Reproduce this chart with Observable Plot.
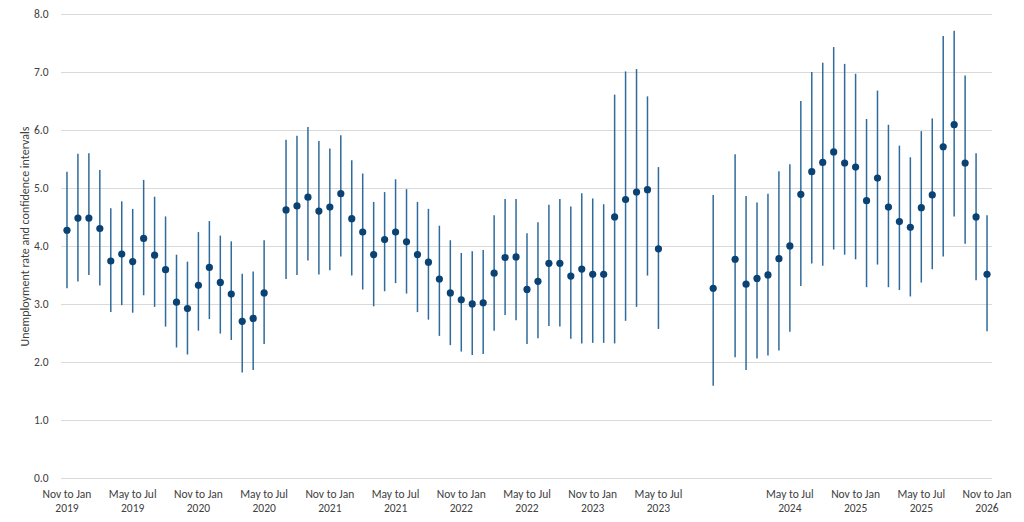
<!DOCTYPE html>
<html>
<head>
<meta charset="utf-8">
<script src="https://cdn.jsdelivr.net/npm/d3@7"></script>
<script src="https://cdn.jsdelivr.net/npm/@observablehq/plot@0.6"></script>
<style>
  html, body { margin: 0; padding: 0; background: #fff; }
  #chart svg { display: block; }
</style>
</head>
<body>
<div id="chart"></div>
<script>
const periods = [
  "Nov to Jan 2019","Dec to Feb 2019","Jan to Mar 2019","Feb to Apr 2019","Mar to May 2019","Apr to Jun 2019","May to Jul 2019","Jun to Aug 2019","Jul to Sep 2019","Aug to Oct 2019","Sep to Nov 2019","Oct to Dec 2019",
  "Nov to Jan 2020","Dec to Feb 2020","Jan to Mar 2020","Feb to Apr 2020","Mar to May 2020","Apr to Jun 2020","May to Jul 2020","Jun to Aug 2020","Jul to Sep 2020","Aug to Oct 2020","Sep to Nov 2020","Oct to Dec 2020",
  "Nov to Jan 2021","Dec to Feb 2021","Jan to Mar 2021","Feb to Apr 2021","Mar to May 2021","Apr to Jun 2021","May to Jul 2021","Jun to Aug 2021","Jul to Sep 2021","Aug to Oct 2021","Sep to Nov 2021","Oct to Dec 2021",
  "Nov to Jan 2022","Dec to Feb 2022","Jan to Mar 2022","Feb to Apr 2022","Mar to May 2022","Apr to Jun 2022","May to Jul 2022","Jun to Aug 2022","Jul to Sep 2022","Aug to Oct 2022","Sep to Nov 2022","Oct to Dec 2022",
  "Nov to Jan 2023","Dec to Feb 2023","Jan to Mar 2023","Feb to Apr 2023","Mar to May 2023","Apr to Jun 2023","May to Jul 2023","Jun to Aug 2023","Jul to Sep 2023","Aug to Oct 2023","Sep to Nov 2023","Oct to Dec 2023",
  "Nov to Jan 2024","Dec to Feb 2024","Jan to Mar 2024","Feb to Apr 2024","Mar to May 2024","Apr to Jun 2024","May to Jul 2024","Jun to Aug 2024","Jul to Sep 2024","Aug to Oct 2024","Sep to Nov 2024","Oct to Dec 2024",
  "Nov to Jan 2025","Dec to Feb 2025","Jan to Mar 2025","Feb to Apr 2025","Mar to May 2025","Apr to Jun 2025","May to Jul 2025","Jun to Aug 2025","Jul to Sep 2025","Aug to Oct 2025","Sep to Nov 2025","Oct to Dec 2025",
  "Nov to Jan 2026"
];

const rate = [
  4.28,4.49,4.49,4.31,3.75,3.87,3.74,4.14,3.85,3.60,3.04,2.93,
  3.33,3.64,3.38,3.18,2.71,2.76,3.20,null,4.63,4.70,4.85,4.61,
  4.68,4.91,4.48,4.25,3.86,4.12,4.25,4.08,3.86,3.73,3.44,3.20,
  3.08,3.01,3.03,3.54,3.81,3.82,3.26,3.40,3.71,3.71,3.49,3.61,
  3.52,3.52,4.51,4.81,4.94,4.98,3.96,null,null,null,null,3.28,
  null,3.78,3.35,3.45,3.51,3.79,4.01,4.90,5.29,5.45,5.63,5.44,
  5.37,4.79,5.18,4.68,4.43,4.33,4.67,4.89,5.72,6.10,5.44,4.51,
  3.52
];
const lower = [
  3.27,3.39,3.50,3.32,2.86,2.98,2.85,3.15,2.95,2.61,2.25,2.13,
  2.54,2.74,2.49,2.38,1.82,1.86,2.31,null,3.43,3.50,3.75,3.51,
  3.58,3.82,3.49,3.25,2.96,3.22,3.36,3.18,2.86,2.73,2.45,2.29,
  2.18,2.12,2.14,2.54,2.81,2.72,2.31,2.41,2.62,2.61,2.40,2.32,
  2.33,2.33,2.32,2.71,2.95,3.49,2.57,null,null,null,null,1.59,
  null,2.08,1.86,2.06,2.11,2.20,2.52,3.31,3.70,3.66,3.94,3.85,
  3.77,3.29,3.68,3.29,3.24,3.13,3.37,3.60,3.82,4.51,4.04,3.41,
  2.53
];
const upper = [
  5.28,5.59,5.60,5.31,4.65,4.77,4.64,5.14,4.85,4.51,3.85,3.73,
  4.24,4.43,4.18,4.08,3.52,3.56,4.10,null,5.83,5.90,6.05,5.81,
  5.68,5.91,5.48,5.25,4.76,4.93,5.15,4.98,4.76,4.64,4.35,4.10,
  3.88,3.91,3.93,4.53,4.81,4.81,4.22,4.41,4.71,4.81,4.68,4.91,
  4.82,4.72,6.61,7.01,7.05,6.58,5.36,null,null,null,null,4.88,
  null,5.58,4.86,4.75,4.90,5.29,5.41,6.50,7.00,7.16,7.43,7.14,
  6.97,6.19,6.68,6.09,5.73,5.53,5.98,6.20,7.62,7.71,6.94,5.60,
  4.53
];

const tickPeriods = [
  "Nov to Jan 2019","May to Jul 2019","Nov to Jan 2020","May to Jul 2020","Nov to Jan 2021","May to Jul 2021",
  "Nov to Jan 2022","May to Jul 2022","Nov to Jan 2023","May to Jul 2023","May to Jul 2024",
  "Nov to Jan 2025","May to Jul 2025","Nov to Jan 2026"
];
const yTicks = [0,1,2,3,4,5,6,7,8];
const yTitle = "Unemployment rate and confidence intervals";

const rows = periods.map((p, i) => ({period: p, rate: rate[i], lower: lower[i], upper: upper[i]}))
  .filter(d => d.rate != null);

const fontFamily = "Carlito, Calibri, Lato, 'Open Sans', sans-serif";
const textColor = "#404040";

const chart = Plot.plot({
  width: 1024,
  height: 522,
  marginLeft: 61,
  marginRight: 32,
  marginTop: 14,
  marginBottom: 44,
  style: {fontFamily, fontSize: "11.5px", color: textColor, background: "#fff"},
  x: {type: "band", domain: periods, padding: 0},
  y: {domain: [0, 8]},
  marks: [
    Plot.ruleY(yTicks, {stroke: "#d9d9d9", strokeWidth: 1.2}),
    Plot.ruleX(rows, {x: "period", y1: "lower", y2: "upper", stroke: "#2f6b9c", strokeWidth: 1.5}),
    Plot.dot(rows, {x: "period", y: "rate", r: 3.6, fill: "#0a4273", stroke: "none"}),
    Plot.axisY({ticks: yTicks, tickSize: 0, tickPadding: 13, tickFormat: d => d.toFixed(1), label: null,
      fill: textColor, fontSize: 11.5}),
    Plot.axisX({ticks: tickPeriods, tickSize: 0, tickPadding: 9, label: null, fill: textColor,
      fontSize: 11.5, lineHeight: 1.25,
      tickFormat: d => { const m = d.match(/^(.*) (\d{4})$/); return m[1] + "\n" + m[2]; }}),
    Plot.text([yTitle], {text: d => d, frameAnchor: "left", dx: -36, dy: -10, rotate: -90,
      textAnchor: "middle", fill: textColor, fontSize: 12})
  ]
});
document.getElementById("chart").appendChild(chart);
</script>
</body>
</html>
